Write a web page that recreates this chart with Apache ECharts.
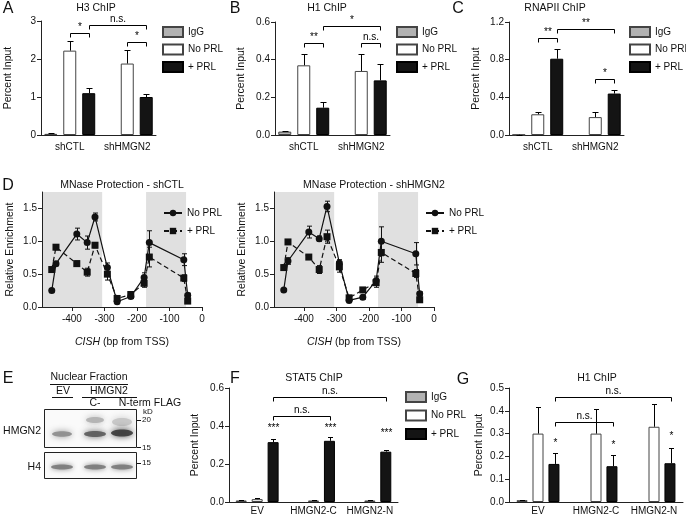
<!DOCTYPE html>
<html><head><meta charset="utf-8">
<script src="https://cdn.jsdelivr.net/npm/echarts@6/dist/echarts.min.js"></script>
<style>html,body{margin:0;padding:0;background:#fff}#c{width:686px;height:516px}</style>
</head><body><div id="c"></div>
<script>
// ---------------- data ----------------
const chipCats = ['shCTL', 'shHMGN2'];
const h3IgG = [0.03, null],   h3IgGErr = [0.01, null];
const h3NoPRL = [2.22, 1.88], h3NoPRLErr = [0.26, 0.37];
const h3PRL = [1.10, 1.00],   h3PRLErr = [0.13, 0.08];
const h1IgG = [0.018, null],  h1IgGErr = [0.004, null];
const h1NoPRL = [0.37, 0.34], h1NoPRLErr = [0.06, 0.09];
const h1PRL = [0.145, 0.29],  h1PRLErr = [0.03, 0.085];
const polIgG = [0.003, null], polIgGErr = [0, null];
const polNoPRL = [0.22, 0.19], polNoPRLErr = [0.025, 0.05];
const polPRL = [0.81, 0.44],  polPRLErr = [0.10, 0.04];

const mnaseX = [-462, -449, -385, -353, -329, -291, -261, -219, -178, -162, -56, -44];
const ctlNoPRL = [0.25, 0.66, 1.11, 0.98, 1.37, 0.60, 0.08, 0.16, 0.45, 0.98, 0.72, 0.18];
const ctlNoPRLErr = [0.02, 0.03, 0.09, 0.10, 0.06, 0.07, 0.02, 0.03, 0.07, 0.18, 0.09, 0.03];
const ctlPRL = [0.57, 0.91, 0.66, 0.53, 0.94, 0.50, 0.13, 0.19, 0.36, 0.76, 0.44, 0.09];
const ctlPRLErr = [0.03, 0.04, 0.04, 0.06, 0.04, 0.09, 0.03, 0.03, 0.06, 0.15, 0.05, 0.02];
const kdNoPRL = [0.26, 0.70, 1.14, 1.04, 1.53, 0.67, 0.10, 0.15, 0.40, 1.00, 0.81, 0.20];
const kdNoPRLErr = [0.02, 0.05, 0.09, 0.04, 0.08, 0.05, 0.02, 0.03, 0.07, 0.22, 0.17, 0.03];
const kdPRL = [0.60, 0.99, 0.76, 0.57, 1.07, 0.61, 0.14, 0.26, 0.37, 0.83, 0.51, 0.11];
const kdPRLErr = [0.04, 0.03, 0.03, 0.06, 0.10, 0.08, 0.03, 0.03, 0.07, 0.15, 0.06, 0.03];
const protectedRegions = [[-492, -307], [-172, -49]];
const mnaseTicks = [-400, -300, -200, -100, 0];
const enrichTicks = [0, 0.5, 1.0, 1.5];

const constructCats = ['EV', 'HMGN2-C', 'HMGN2-N'];
const stat5IgG = [0.008, null, null],   stat5IgGErr = [0.001, null, null];
const stat5NoPRL = [0.015, 0.008, 0.008], stat5NoPRLErr = [0.004, 0.001, 0.001];
const stat5PRL = [0.315, 0.322, 0.265], stat5PRLErr = [0.017, 0.018, 0.01];
const h1cIgG = [0.008, null, null],     h1cIgGErr = [0.001, null, null];
const h1cNoPRL = [0.30, 0.30, 0.33],    h1cNoPRLErr = [0.115, 0.11, 0.10];
const h1cPRL = [0.167, 0.157, 0.17],    h1cPRLErr = [0.047, 0.047, 0.066];

// significance annotations: [cat1, slot1, cat2, slot2, y, text]
const h3Sig = [[0, 1, 0, 2, 2.68, '*'], [0, 2, 1, 2, 2.9, 'n.s.'], [1, 1, 1, 2, 2.45, '*']];
const h1Sig = [[0, 1, 0, 2, 0.49, '**'], [0, 2, 1, 2, 0.58, '*'], [1, 1, 1, 2, 0.49, 'n.s.']];
const polSig = [[0, 1, 0, 2, 1.03, '**'], [0, 2, 1, 2, 1.13, '**'], [1, 1, 1, 2, 0.59, '*']];
const stat5Sig = [[0, 2, 1, 2, 0.455, 'n.s.'], [0, 2, 2, 2, 0.555, 'n.s.']];
const stat5Stars = [[0, 2, 0.39, '***'], [1, 2, 0.39, '***'], [2, 2, 0.365, '***']];
const h1cSig = [[0, 2, 1, 2, 0.35, 'n.s.'], [0, 2, 2, 2, 0.46, 'n.s.']];
const h1cStars = [[0, 2, 0.26, '*'], [1, 2, 0.25, '*'], [2, 2, 0.29, '*']];

// ---------------- styling ----------------
const FF = '"Liberation Sans", Arial, Helvetica, sans-serif';
const TXT = '#111';
const AX = '#222';
const barStyles = {
  'IgG': { color: '#b2b2b2', borderColor: '#444', borderWidth: 1 },
  'No PRL': { color: '#ffffff', borderColor: '#444', borderWidth: 1 },
  '+ PRL': { color: '#141414', borderColor: '#000', borderWidth: 1 }
};

const chart = echarts.init(document.getElementById('c'), null, { renderer: 'canvas' });

const grids = [
  { left: 41, top: 21, width: 115, height: 114 },   // A
  { left: 275, top: 22, width: 115, height: 113 },  // B
  { left: 509, top: 22, width: 115, height: 113 },  // C
  { left: 42, top: 192, width: 160, height: 115 },  // D left
  { left: 274, top: 192, width: 160, height: 115 }, // D right
  { left: 229, top: 388, width: 169, height: 115 }, // F
  { left: 509, top: 388, width: 174, height: 115 }  // G
];

function catAxis(gi, cats, margin) {
  return {
    type: 'category', gridIndex: gi, data: cats,
    axisLine: { lineStyle: { color: AX, width: 1 } },
    axisTick: { alignWithLabel: true, length: 4, lineStyle: { color: AX } },
    axisLabel: { fontSize: 10, color: TXT, fontFamily: FF, margin: margin, interval: 0, hideOverlap: false }
  };
}
function valAxis(gi, max, interval, dec, gap) {
  return {
    type: 'value', gridIndex: gi, min: 0, max: max, interval: interval,
    splitLine: { show: false },
    axisLine: { show: true, lineStyle: { color: AX, width: 1 } },
    axisTick: { show: true, length: 4, lineStyle: { color: AX } },
    axisLabel: { fontSize: 10, color: TXT, fontFamily: FF, margin: 5,
      formatter: v => v.toFixed(dec) },
    name: 'Percent Input', nameLocation: 'middle', nameGap: gap,
    nameTextStyle: { fontSize: 10.5, color: TXT, fontFamily: FF }
  };
}

function barSeries(gi, name, vals, bw, gapPct) {
  return {
    type: 'bar', name: name, xAxisIndex: gi, yAxisIndex: gi, data: vals,
    barWidth: bw, barGap: gapPct, itemStyle: barStyles[name], z: 2, silent: true
  };
}

function errSeries(gi, step, cap, groups) {
  const data = [];
  groups.forEach((g, s) => g[0].forEach((v, i) => {
    if (v != null && g[1][i] != null) data.push([i, v, g[1][i], s]);
  }));
  return {
    type: 'custom', xAxisIndex: gi, yAxisIndex: gi, z: 3, silent: true,
    data: data, encode: { x: 0, y: 1 },
    renderItem(p, api) {
      const i = api.value(0), v = api.value(1), e = api.value(2), s = api.value(3);
      const a = api.coord([i, v]), b = api.coord([i, v + e]);
      const x = Math.round(a[0] + (s - 1) * step) + 0.5;
      const yb = Math.round(b[1]) + 0.5;
      return { type: 'group', children: [
        { type: 'line', shape: { x1: x, y1: a[1], x2: x, y2: yb }, style: { stroke: '#000', lineWidth: 1 } },
        { type: 'line', shape: { x1: x - cap, y1: yb, x2: x + cap, y2: yb }, style: { stroke: '#000', lineWidth: 1 } }
      ] };
    }
  };
}

function annotSeries(gi, step, brackets, stars) {
  const items = brackets.map(b => ({ k: 'b', c1: b[0], s1: b[1], c2: b[2], s2: b[3], y: b[4], t: b[5] }))
    .concat((stars || []).map(s => ({ k: 's', c1: s[0], s1: s[1], y: s[2], t: s[3] })));
  return {
    type: 'custom', xAxisIndex: gi, yAxisIndex: gi, z: 10, silent: true,
    data: items.map(it => [it.c1, it.y]), encode: { x: 0, y: 1 },
    renderItem(p, api) {
      const it = items[p.dataIndex];
      const y = Math.round(api.coord([it.c1, it.y])[1]) + 0.5;
      const xa = Math.round(api.coord([it.c1, 0])[0] + (it.s1 - 1) * step) + 0.5;
      if (it.k === 's') {
        return { type: 'text', x: xa, y: y, style: { text: it.t, align: 'center', verticalAlign: 'middle',
          font: '10px ' + FF, fill: '#000' } };
      }
      const xb = Math.round(api.coord([it.c2, 0])[0] + (it.s2 - 1) * step) + 0.5;
      return { type: 'group', children: [
        { type: 'polyline', shape: { points: [[xa, y + 4], [xa, y], [xb, y], [xb, y + 4]] },
          style: { stroke: '#000', lineWidth: 1, fill: null } },
        { type: 'text', x: (xa + xb) / 2, y: y - 1, style: { text: it.t, align: 'center', verticalAlign: 'bottom',
          font: '10px ' + FF, fill: '#000' } }
      ] };
    }
  };
}

function barLegend(left, top, gap) {
  return {
    left: left, top: top, orient: 'vertical', padding: 0, itemWidth: 20, itemHeight: 10, itemGap: gap,
    icon: 'rect', selectedMode: false, data: ['IgG', 'No PRL', '+ PRL'],
    textStyle: { fontSize: 10, color: TXT, fontFamily: FF }
  };
}

// MNase panels
function mnaseAxes(gi) {
  return {
    x: {
      type: 'value', gridIndex: gi, min: -492, max: 0, z: 5,
      splitLine: { show: false },
      axisLine: { show: true, onZero: false, lineStyle: { color: AX } },
      axisTick: { show: true, length: 4, customValues: mnaseTicks, lineStyle: { color: AX } },
      axisLabel: { fontSize: 10, color: TXT, fontFamily: FF, margin: 7, customValues: mnaseTicks, hideOverlap: false },
      name: '{i|CISH} (bp from TSS)', nameLocation: 'middle', nameGap: 30, nameMoveOverlap: false,
      nameTextStyle: { fontSize: 10.5, color: TXT, fontFamily: FF,
        rich: { i: { fontStyle: 'italic', fontSize: 10.5, fontFamily: FF, color: TXT } } }
    },
    y: {
      type: 'value', gridIndex: gi, min: 0, max: 1.75, z: 5,
      splitLine: { show: false },
      axisLine: { show: true, onZero: false, lineStyle: { color: AX } },
      axisTick: { show: true, length: 4, customValues: enrichTicks, lineStyle: { color: AX } },
      axisLabel: { fontSize: 10, color: TXT, fontFamily: FF, margin: 5, customValues: enrichTicks,
        hideOverlap: false, formatter: v => v.toFixed(1) },
      name: 'Relative Enrichment', nameLocation: 'middle', nameGap: 26, nameMoveOverlap: false,
      nameTextStyle: { fontSize: 10.5, color: TXT, fontFamily: FF }
    }
  };
}
function shadeSeries(gi) {
  return {
    type: 'line', xAxisIndex: gi, yAxisIndex: gi, data: [], z: 1, silent: true,
    markArea: { silent: true, itemStyle: { color: '#e0e0e0' }, label: { show: false },
      data: protectedRegions.map(r => [{ xAxis: r[0] }, { xAxis: r[1] }]) }
  };
}
function lineSeries(gi, name, vals, symbol, dashed) {
  return {
    type: 'line', name: name, xAxisIndex: gi, yAxisIndex: gi, z: 4, silent: true,
    data: mnaseX.map((x, i) => [x, vals[i]]),
    symbol: symbol, symbolSize: 7, showAllSymbol: true,
    itemStyle: { color: '#111' },
    lineStyle: { color: '#111', width: 1.2, type: dashed ? [5, 3] : 'solid' }
  };
}
function lineErrSeries(gi, vals, errs) {
  return {
    type: 'custom', xAxisIndex: gi, yAxisIndex: gi, z: 3, silent: true,
    data: mnaseX.map((x, i) => [x, vals[i], errs[i]]), encode: { x: 0, y: 1 },
    renderItem(p, api) {
      const x0 = api.value(0), v = api.value(1), e = api.value(2);
      const a = api.coord([x0, v - e]), b = api.coord([x0, v + e]);
      const x = Math.round(a[0]) + 0.5;
      return { type: 'group', children: [
        { type: 'line', shape: { x1: x, y1: a[1], x2: x, y2: b[1] }, style: { stroke: '#111', lineWidth: 1 } },
        { type: 'line', shape: { x1: x - 2.5, y1: a[1], x2: x + 2.5, y2: a[1] }, style: { stroke: '#111', lineWidth: 1 } },
        { type: 'line', shape: { x1: x - 2.5, y1: b[1], x2: x + 2.5, y2: b[1] }, style: { stroke: '#111', lineWidth: 1 } }
      ] };
    }
  };
}
function lineLegend(left, top) {
  return {
    left: left, top: top, orient: 'vertical', padding: 0, itemWidth: 18, itemHeight: 8, itemGap: 8,
    selectedMode: false, data: ['No PRL ', '+ PRL '], formatter: n => n.trim(),
    textStyle: { fontSize: 10, color: TXT, fontFamily: FF }
  };
}

const dL = mnaseAxes(3), dR = mnaseAxes(4);

const xAxes = [
  catAxis(0, chipCats, 7), catAxis(1, chipCats, 7), catAxis(2, chipCats, 7),
  dL.x, dR.x,
  catAxis(5, constructCats, 4), catAxis(6, constructCats, 4)
];
const yAxes = [
  valAxis(0, 3, 1, 0, 27),
  valAxis(1, 0.6, 0.2, 1, 28),
  valAxis(2, 1.2, 0.4, 1, 27),
  dL.y, dR.y,
  valAxis(5, 0.6, 0.2, 1, 28),
  valAxis(6, 0.5, 0.1, 1, 24)
];

const BW = 13, GAP = '46%', STEP = 19;
const BW2 = 11, GAP2 = '45%', STEP2 = 16;

const series = [
  // A
  barSeries(0, 'IgG', h3IgG, BW, GAP), barSeries(0, 'No PRL', h3NoPRL, BW, GAP), barSeries(0, '+ PRL', h3PRL, BW, GAP),
  errSeries(0, STEP, 3, [[h3IgG, h3IgGErr], [h3NoPRL, h3NoPRLErr], [h3PRL, h3PRLErr]]),
  annotSeries(0, STEP, h3Sig),
  // B
  barSeries(1, 'IgG', h1IgG, BW, GAP), barSeries(1, 'No PRL', h1NoPRL, BW, GAP), barSeries(1, '+ PRL', h1PRL, BW, GAP),
  errSeries(1, STEP, 3, [[h1IgG, h1IgGErr], [h1NoPRL, h1NoPRLErr], [h1PRL, h1PRLErr]]),
  annotSeries(1, STEP, h1Sig),
  // C
  barSeries(2, 'IgG', polIgG, BW, GAP), barSeries(2, 'No PRL', polNoPRL, BW, GAP), barSeries(2, '+ PRL', polPRL, BW, GAP),
  errSeries(2, STEP, 3, [[polIgG, polIgGErr], [polNoPRL, polNoPRLErr], [polPRL, polPRLErr]]),
  annotSeries(2, STEP, polSig),
  // D left
  shadeSeries(3),
  lineErrSeries(3, ctlNoPRL, ctlNoPRLErr), lineErrSeries(3, ctlPRL, ctlPRLErr),
  lineSeries(3, 'No PRL ', ctlNoPRL, 'circle', false), lineSeries(3, '+ PRL ', ctlPRL, 'rect', true),
  // D right
  shadeSeries(4),
  lineErrSeries(4, kdNoPRL, kdNoPRLErr), lineErrSeries(4, kdPRL, kdPRLErr),
  lineSeries(4, 'No PRL ', kdNoPRL, 'circle', false), lineSeries(4, '+ PRL ', kdPRL, 'rect', true),
  // F
  barSeries(5, 'IgG', stat5IgG, BW2, GAP2), barSeries(5, 'No PRL', stat5NoPRL, BW2, GAP2), barSeries(5, '+ PRL', stat5PRL, BW2, GAP2),
  errSeries(5, STEP2, 2.5, [[stat5IgG, stat5IgGErr], [stat5NoPRL, stat5NoPRLErr], [stat5PRL, stat5PRLErr]]),
  annotSeries(5, STEP2, stat5Sig, stat5Stars),
  // G
  barSeries(6, 'IgG', h1cIgG, BW2, GAP2), barSeries(6, 'No PRL', h1cNoPRL, BW2, GAP2), barSeries(6, '+ PRL', h1cPRL, BW2, GAP2),
  errSeries(6, 16.5, 2.5, [[h1cIgG, h1cIgGErr], [h1cNoPRL, h1cNoPRLErr], [h1cPRL, h1cPRLErr]]),
  annotSeries(6, 16.5, h1cSig, h1cStars)
];

// text & blot graphics
function txt(x, y, text, size, align, extra) {
  return Object.assign({ type: 'text', x: x, y: y, silent: true,
    style: { text: text, font: (size || 10) + 'px ' + FF, fill: TXT, align: align || 'center', verticalAlign: 'middle' } }, extra || {});
}
function hline(x1, x2, y) {
  return { type: 'line', silent: true, shape: { x1: x1, y1: y + 0.5, x2: x2, y2: y + 0.5 }, style: { stroke: '#111', lineWidth: 1 } };
}
function band(cx, cy, rx, ry, col, blur) {
  return { type: 'ellipse', silent: true, shape: { cx: cx, cy: cy, rx: rx, ry: ry },
    style: { fill: col, shadowBlur: blur, shadowColor: col, opacity: 0.9 } };
}
const graphics = [
  txt(8, 9, 'A', 16), txt(235, 9, 'B', 16), txt(458, 9, 'C', 16),
  txt(8, 186, 'D', 16), txt(8, 379, 'E', 16), txt(235, 379, 'F', 16), txt(463, 380, 'G', 16),
  txt(96, 8, 'H3 ChIP', 10.5), txt(327, 8, 'H1 ChIP', 10.5), txt(555, 8, 'RNAPII ChIP', 10.5),
  txt(122, 185, 'MNase Protection - shCTL', 10.5), txt(374, 185, 'MNase Protection - shHMGN2', 10.5),
  txt(314, 378, 'STAT5 ChIP', 10.5), txt(597, 378, 'H1 ChIP', 10.5),
  // blot panel E
  txt(89, 377, 'Nuclear Fraction', 10.5), hline(50, 128, 384),
  txt(63, 391, 'EV', 10.5), hline(52, 73, 397),
  txt(109, 391, 'HMGN2', 10.5), hline(82, 137, 397),
  txt(95, 403, 'C-', 10.5), txt(150, 403, 'N-term FLAG', 10.5),
  { type: 'rect', silent: true, shape: { x: 44.5, y: 409.5, width: 92, height: 38 }, style: { fill: '#fafafa', stroke: '#222', lineWidth: 1 } },
  { type: 'rect', silent: true, shape: { x: 44.5, y: 452.5, width: 92, height: 26 }, style: { fill: '#fafafa', stroke: '#222', lineWidth: 1 } },
  band(62, 434, 10, 2.8, '#8c8c8c', 6),
  band(95, 420, 9, 3, '#b0b0b0', 6),
  band(95, 434, 11, 3, '#5a5a5a', 6),
  band(122, 422, 10, 4, '#c4c4c4', 7),
  band(122, 433, 11, 3.5, '#3a3a3a', 6),
  band(62, 467, 11, 2.5, '#7a7a7a', 5),
  band(95, 467, 11, 2.5, '#7a7a7a', 5),
  band(122, 467, 11, 2.5, '#7a7a7a', 5),
  txt(41, 431, 'HMGN2', 10.5, 'right'), txt(41, 467, 'H4', 10.5, 'right'),
  txt(143, 412, 'kD', 8, 'left'),
  hline(137, 141, 420), txt(142, 420, '20', 8, 'left'),
  hline(137, 141, 447), txt(142, 448, '15', 8, 'left'),
  hline(137, 141, 463), txt(142, 463, '15', 8, 'left')
];

chart.setOption({
  animation: false,
  backgroundColor: '#ffffff',
  textStyle: { fontFamily: FF },
  grid: grids,
  xAxis: xAxes,
  yAxis: yAxes,
  legend: [
    barLegend(162, 26, 5.5), barLegend(396, 26, 5.5), barLegend(629, 26, 5.5),
    lineLegend(163, 208), lineLegend(425, 208),
    barLegend(405, 391, 6.5)
  ],
  series: series,
  graphic: graphics
});
</script></body></html>
